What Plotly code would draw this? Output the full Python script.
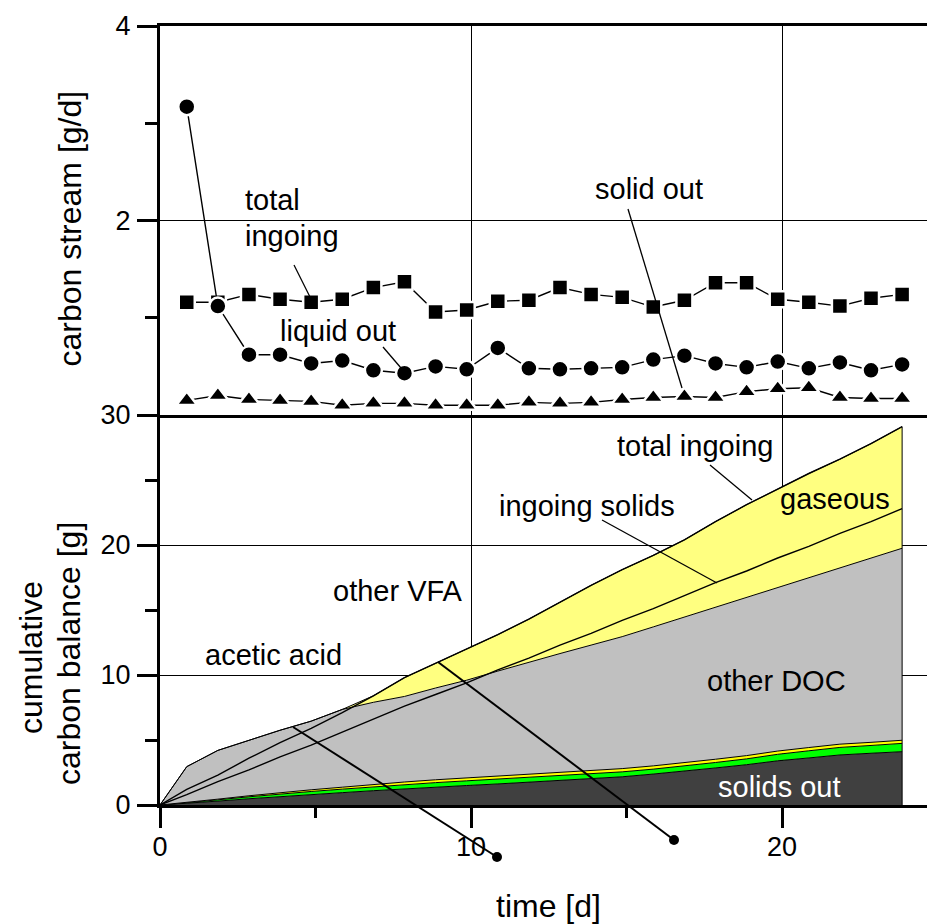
import plotly.graph_objects as go

# ---- data -------------------------------------------------------------
# sampling days
days = [0.86, 1.86, 2.86, 3.86, 4.86, 5.86, 6.86, 7.86, 8.86, 9.86, 10.86, 11.86,
        12.86, 13.86, 14.86, 15.86, 16.86, 17.86, 18.86, 19.86, 20.86, 21.86, 22.86, 23.86]

# daily carbon streams [g/d]
stream_total_in = [1.16, 1.16, 1.24, 1.19, 1.16, 1.19, 1.31, 1.37, 1.06, 1.08, 1.17, 1.18,
                   1.31, 1.24, 1.21, 1.11, 1.18, 1.36, 1.36, 1.19, 1.16, 1.12, 1.20, 1.24]
stream_liquid_out = [3.17, 1.12, 0.62, 0.62, 0.53, 0.56, 0.46, 0.43, 0.50, 0.47, 0.69, 0.48,
                     0.47, 0.48, 0.49, 0.57, 0.61, 0.53, 0.49, 0.55, 0.48, 0.54, 0.46, 0.52]
stream_solid_out = [0.15, 0.20, 0.16, 0.15, 0.14, 0.10, 0.12, 0.12, 0.10, 0.10, 0.10, 0.13,
                    0.12, 0.13, 0.16, 0.18, 0.19, 0.18, 0.24, 0.27, 0.28, 0.18, 0.17, 0.17]

# cumulative carbon balance [g], starting at day 0
days_cum = [0.0] + days
total_in_cum = [0, 1.2, 2.3, 3.6, 4.8, 5.9, 7.1, 8.4, 9.8, 10.9, 12.0, 13.1, 14.3,
                15.6, 16.9, 18.1, 19.2, 20.4, 21.8, 23.1, 24.3, 25.5, 26.6, 27.8, 29.1]
solids_in_cum = [0, 0.8, 1.8, 2.7, 3.7, 4.6, 5.6, 6.6, 7.6, 8.5, 9.4, 10.4, 11.3,
                 12.3, 13.2, 14.2, 15.1, 16.1, 17.1, 18.0, 19.0, 19.9, 20.9, 21.8, 22.8]
solids_out_cum = [0, 0.12, 0.30, 0.48, 0.65, 0.80, 0.95, 1.10, 1.25, 1.38, 1.50, 1.62, 1.75,
                  1.88, 2.02, 2.17, 2.38, 2.60, 2.85, 3.10, 3.40, 3.62, 3.85, 3.98, 4.10]
acetic_cum = [0, 0.05, 0.10, 0.15, 0.20, 0.24, 0.27, 0.30, 0.32, 0.34, 0.36, 0.37, 0.38,
              0.38, 0.38, 0.38, 0.38, 0.40, 0.42, 0.45, 0.50, 0.55, 0.58, 0.60, 0.64]
other_vfa_cum = [0, 0.02, 0.05, 0.08, 0.10, 0.13, 0.15, 0.18, 0.20, 0.22, 0.23, 0.24, 0.24,
                 0.25, 0.25, 0.25, 0.25, 0.25, 0.25, 0.25, 0.25, 0.25, 0.25, 0.24, 0.24]
other_doc_cum = [0, 2.76, 3.75, 4.29, 4.80, 5.28, 5.98, 6.32, 6.58, 7.06, 7.51, 8.07, 8.63,
                 9.14, 9.65, 10.15, 10.69, 11.20, 11.68, 12.15, 12.55, 13.08, 13.57, 14.18, 14.77]
gaseous_cum = [0, 0, 0, 0, 0, 0, 0, 0.5, 1.45, 1.9, 2.4, 2.8, 3.3,
               3.95, 4.6, 5.15, 5.5, 5.95, 6.6, 7.15, 7.6, 8.0, 8.35, 8.8, 9.35]

# ---- geometry ---------------------------------------------------------
W, H = 927, 924
ML, MR, MT, MB = 160, 0, 26, 119
PW, PH = W - ML - MR, H - MT - MB
X_MAX = 24.66
SPLIT = 390 / PH          # bottom panel height fraction

FONT = "Liberation Sans, Arial, sans-serif"


def px(xp):
    return (xp - ML) / PW


def py(yp):
    return (H - MB - yp) / PH


fig = go.Figure()

# ---- top panel: daily streams ----------------------------------------
line_style = dict(color="black", width=1.4)
fig.add_trace(go.Scatter(
    x=days, y=stream_total_in, mode="lines+markers", xaxis="x2", yaxis="y2",
    line=line_style,
    marker=dict(symbol="square", size=16, color="black", line=dict(color="white", width=2.5))))
fig.add_trace(go.Scatter(
    x=days, y=stream_solid_out, mode="lines+markers", xaxis="x2", yaxis="y2",
    line=line_style,
    marker=dict(symbol="triangle-up", size=18, color="black", line=dict(color="white", width=2.5))))
fig.add_trace(go.Scatter(
    x=days, y=stream_liquid_out, mode="lines+markers", xaxis="x2", yaxis="y2",
    line=line_style,
    marker=dict(symbol="circle", size=17, color="black", line=dict(color="white", width=2.5))))

# ---- bottom panel: cumulative balance ---------------------------------
edge = dict(color="black", width=1)
stack = [
    (solids_out_cum, "#404040"),
    (acetic_cum, "#00FF00"),
    (other_vfa_cum, "#FFFF00"),
    (other_doc_cum, "#C0C0C0"),
    (gaseous_cum, "#FFFF80"),
]
for values, colour in stack:
    fig.add_trace(go.Scatter(
        x=days_cum, y=values, mode="lines", stackgroup="out",
        line=edge, fillcolor=colour, xaxis="x", yaxis="y"))

fig.add_trace(go.Scatter(x=[days_cum[-1], days_cum[-1]], y=[0, total_in_cum[-1]],
                         mode="lines", line=edge, xaxis="x", yaxis="y"))
fig.add_trace(go.Scatter(x=days_cum, y=total_in_cum, mode="lines",
                         line=dict(color="black", width=1.4), xaxis="x", yaxis="y"))
fig.add_trace(go.Scatter(x=days_cum, y=solids_in_cum, mode="lines",
                         line=dict(color="black", width=1.4), xaxis="x", yaxis="y"))

# ---- axes ---------------------------------------------------------------
tickfont = dict(family=FONT, size=27, color="black")
common = dict(showgrid=True, gridcolor="black", gridwidth=1, zeroline=False,
              showline=True, linecolor="black", linewidth=3, automargin=False,
              tickfont=tickfont, tickcolor="black")

fig.update_layout(
    width=W, height=H,
    margin=dict(l=ML, r=MR, t=MT, b=MB),
    paper_bgcolor="white", plot_bgcolor="white",
    showlegend=False,
    xaxis=dict(domain=[0, 1], range=[0, X_MAX], anchor="y",
               tickmode="array", tickvals=[0, 10, 20], ticks="outside",
               ticklen=20, tickwidth=2.5, ticklabelstandoff=-4,
               minor=dict(tickvals=[5, 15], ticks="outside", ticklen=10,
                          tickwidth=2.5, tickcolor="black", showgrid=False),
               **common),
    yaxis=dict(domain=[0, SPLIT], range=[0, 30], anchor="x",
               tickmode="array", tickvals=[0, 10, 20, 30], ticks="outside",
               ticklen=20, tickwidth=2.5, ticklabelstandoff=1,
               minor=dict(tickvals=[5, 15, 25], ticks="outside", ticklen=12,
                          tickwidth=2.5, tickcolor="black", showgrid=False),
               **common),
    xaxis2=dict(domain=[0, 1], range=[0, X_MAX], anchor="y2", matches="x",
                tickmode="array", tickvals=[0, 10, 20], ticks="",
                showticklabels=False, mirror=True, **common),
    yaxis2=dict(domain=[SPLIT, 1], range=[0, 4], anchor="x2",
                tickmode="array", tickvals=[0, 2, 4], ticktext=["", "2", "4"],
                ticks="outside", ticklen=20, tickwidth=2.5, ticklabelstandoff=1,
                minor=dict(tickvals=[1, 3], ticks="outside", ticklen=12,
                           tickwidth=2.5, tickcolor="black", showgrid=False),
                **common),
)

# ---- labels -------------------------------------------------------------
labels = [
    ("total", 243, 200.5, "left", "black"),
    ("ingoing", 243, 236.5, "left", "black"),
    ("liquid out", 338, 330.5, "center", "black"),
    ("solid out", 649, 189, "center", "black"),
    ("total ingoing", 695, 445.5, "center", "black"),
    ("ingoing solids", 587, 505.5, "center", "black"),
    ("gaseous", 835, 498.5, "center", "black"),
    ("other DOC", 776, 680.5, "center", "black"),
    ("solids out", 779, 787, "center", "white"),
    ("other VFA", 398, 590.5, "center", "black"),
    ("acetic acid", 273, 654.5, "center", "black"),
]
for text, xp, yp, anchor, colour in labels:
    fig.add_annotation(text=text, x=px(xp), y=py(yp), xref="paper", yref="paper",
                       xanchor=anchor, yanchor="middle", showarrow=False,
                       font=dict(family=FONT, size=29, color=colour))

titles = [
    ("carbon stream [g/d]", 69, 228.5, -90),
    ("carbon balance [g]", 69, 654, -90),
    ("cumulative", 31, 658, -90),
    ("time [d]", 548, 906, 0),
]
for text, xp, yp, angle in titles:
    fig.add_annotation(text=text, x=px(xp), y=py(yp), xref="paper", yref="paper",
                       xanchor="center", yanchor="middle", showarrow=False,
                       textangle=angle, font=dict(family=FONT, size=32, color="black"))

# leader lines from the labels to their curves
leaders = [
    ((294, 265), (310, 297), 1.3),
    ((383, 347), (401, 368), 1.3),
    ((628, 209), (682, 388), 1.3),
    ((710, 465), (752, 500), 1.3),
    ((602, 520), (717, 583), 1.3),
    ((293, 727), (497, 857), 2),
    ((438, 662), (674, 840), 2),
]
for (x0, y0), (x1, y1), w in leaders:
    fig.add_shape(type="line", xref="paper", yref="paper",
                  x0=px(x0), y0=py(y0), x1=px(x1), y1=py(y1),
                  line=dict(color="black", width=w))

for xp, yp in [(497, 857), (674, 840)]:
    fig.add_shape(type="circle", xref="paper", yref="paper",
                  xsizemode="pixel", ysizemode="pixel",
                  xanchor=px(xp), yanchor=py(yp), x0=-5, x1=5, y0=-5, y1=5,
                  fillcolor="black", line=dict(color="black", width=0))

fig.write_html("out.html")
